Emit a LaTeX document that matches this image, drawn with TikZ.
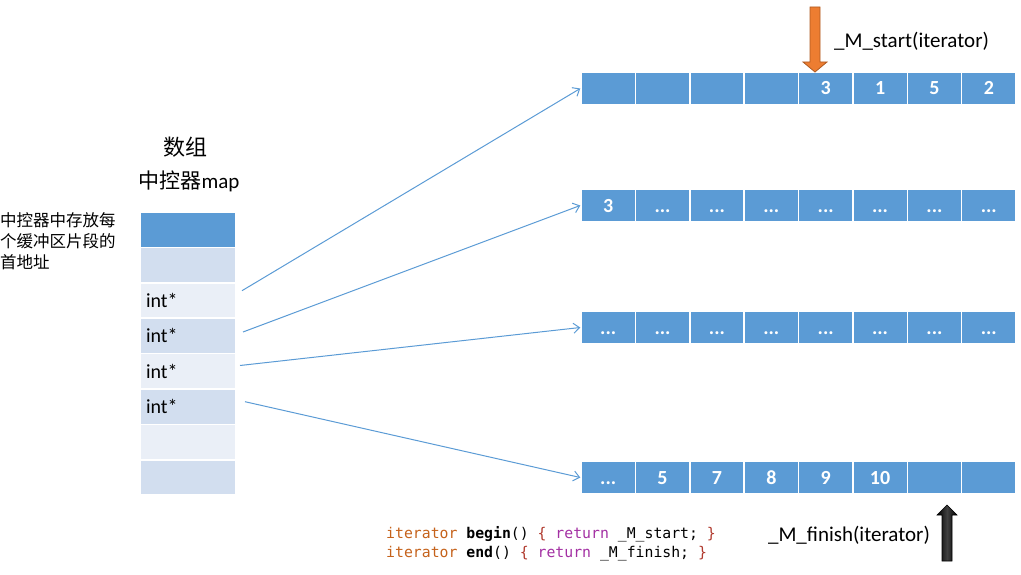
\documentclass[tikz,border=0pt]{standalone}
\usepackage{fontspec}
\setmainfont{Carlito}
\newfontfamily\cjk{Noto Sans CJK SC}
\newfontfamily\codefont{DejaVu Sans Mono}
\usetikzlibrary{arrows.meta}
\definecolor{cblue}{HTML}{5B9BD5}
\definecolor{rowdark}{HTML}{D2DEEF}
\definecolor{rowlight}{HTML}{EAEFF7}
\definecolor{corange}{HTML}{ED7D31}
\definecolor{corangeD}{HTML}{AE5A21}
\definecolor{citer}{HTML}{C5621B}
\definecolor{cbrace}{HTML}{B03A2E}
\definecolor{cret}{HTML}{A330A3}
\newcommand{\dd}{...}
\tikzset{
  cell/.style={rectangle, draw=white, line width=1.5, fill=cblue, minimum width=54.375, minimum height=33, inner sep=0, text height=13, text depth=0, text=white, font=\bfseries\fontsize{20}{24}\selectfont},
  mcell/.style={rectangle, draw=white, line width=1.5, minimum height=35.4, inner xsep=6, inner ysep=0, text width=84, align=left, font=\fontsize{20}{24}\selectfont},
  conn/.style={draw=cblue, line width=1, -{Straight Barb[length=6,width=10]}},
  lbl/.style={font=\fontsize{21}{25}\selectfont, inner sep=0},
  code/.style={anchor=base west, inner sep=0, font=\codefont\fontsize{14.8}{19}\selectfont}
}
\begin{document}
\begin{tikzpicture}[x=1pt,y=-1pt]
\useasboundingbox (0,0) rectangle (1021,575);
% arrays
\foreach \t [count=\c] in {{},{},{},{},3,1,5,2}
  \node[cell] (r1c\c) at ({581+54.375*(\c-0.5)},88.5) {\t};
\foreach \t [count=\c] in {3,\dd,\dd,\dd,\dd,\dd,\dd,\dd}
  \node[cell] (r2c\c) at ({581+54.375*(\c-0.5)},205.5) {\t};
\foreach \t [count=\c] in {\dd,\dd,\dd,\dd,\dd,\dd,\dd,\dd}
  \node[cell] (r3c\c) at ({581+54.375*(\c-0.5)},327.5) {\t};
\foreach \t [count=\c] in {\dd,5,7,8,9,10,{},{}}
  \node[cell] (r4c\c) at ({581+54.375*(\c-0.5)},477.5) {\t};
% map table
\foreach \f/\t [count=\i] in {cblue/{},rowdark/{},rowlight/int*,rowdark/int*,rowlight/int*,rowdark/int*,rowlight/{},rowdark/{}}
  \node[mcell, fill=\f] (m\i) at (188,{212+35.4*(\i-0.5)}) {\t};
% labels
\node[font=\cjk\fontsize{22}{26}\selectfont, inner sep=0] (t1) at (185,147) {数组};
\node[lbl] (t2) at (189,181) {{\cjk 中控器}map};
\node[anchor=north west, align=left, inner sep=0, font=\cjk\fontsize{16.5}{21}\selectfont] (note) at (0,212) {中控器中存放每\\个缓冲区片段的\\首地址};
\node[lbl] (startlbl) at (911.5,41) {\_M\_start(iterator)};
\node[lbl] (finishlbl) at (849,535) {\_M\_finish(iterator)};
\node[code] (code1) at (386,538) {{\color{citer}iterator} \textbf{begin}() {\color{cbrace}\{} {\color{cret}return} \_M\_start; {\color{cbrace}\}}};
\node[code] (code2) at (386,557) {{\color{citer}iterator} \textbf{end}() {\color{cbrace}\{} {\color{cret}return} \_M\_finish; {\color{cbrace}\}}};
% connectors
\coordinate (s1) at (242,290.7);
\coordinate (s2) at (243,332);
\coordinate (s3) at (240,365.5);
\coordinate (s4) at (245,401.7);
\draw[conn] (s1) -- (r1c1.west);
\draw[conn] (s2) -- (r2c1.west);
\draw[conn] (s3) -- (r3c1.west);
\draw[conn] (s4) -- (r4c1.west);
% orange block arrow
\draw[fill=corange, draw=corangeD, line width=0.8, line join=miter]
  (810,7) -- (820,7) -- (820,62) -- (827,62) -- (815,72) -- (803,62) -- (810,62) -- cycle;
% black block arrow
\shade[left color=black, right color=black, middle color=black!75!white]
  (937,515) -- (947,505) -- (957,515) -- (952,515) -- (952,561) -- (942,561) -- (942,515) -- cycle;
\draw[black, line width=0.6]
  (937,515) -- (947,505) -- (957,515) -- (952,515) -- (952,561) -- (942,561) -- (942,515) -- cycle;
\end{tikzpicture}
\end{document}
